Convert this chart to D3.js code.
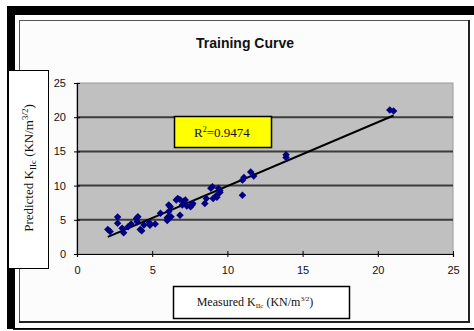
<!DOCTYPE html>
<html>
<head>
<meta charset="utf-8">
<script src="https://cdn.jsdelivr.net/npm/d3@7"></script>
<style>
  html, body { margin: 0; padding: 0; background: #ffffff; }
  svg { display: block; }
</style>
</head>
<body>
<svg id="chart" width="474" height="331"></svg>
<script>
// Measured vs predicted fracture toughness (training set)
const measured = [2.05, 2.2, 2.7, 2.7, 3.0, 3.1, 3.4, 3.6, 3.95, 4.05, 4.0, 4.2, 4.3, 4.45, 4.8, 4.85,
  5.2, 5.55, 6.0, 6.1, 6.0, 6.1, 6.2, 6.25, 6.1, 6.6, 6.7, 6.85, 6.85, 7.1, 7.2, 7.0, 7.3, 7.55,
  7.65, 7.7, 8.5, 8.6, 8.9, 9.0, 9.05, 9.25, 9.3, 9.4, 9.5, 9.5, 11.0, 11.1, 11.0, 11.55, 11.75,
  13.9, 13.9, 20.8, 21.05];
const predicted = [3.6, 3.3, 5.4, 4.5, 3.75, 3.1, 4.0, 4.4, 5.2, 5.45, 4.7, 3.6, 3.4, 4.25, 4.6, 4.2,
  4.4, 5.95, 5.3, 5.5, 4.9, 7.15, 6.9, 5.45, 6.2, 7.9, 8.1, 7.95, 5.65, 7.7, 7.9, 7.15, 7.0, 6.9,
  7.15, 7.4, 7.4, 8.1, 9.6, 9.85, 8.1, 8.5, 8.3, 9.6, 9.0, 9.3, 10.8, 11.2, 8.6, 12.0, 11.4,
  14.5, 14.1, 21.05, 20.9];
const xTicks = [0, 5, 10, 15, 20, 25];
const yTicks = [0, 5, 10, 15, 20, 25];
const rSquaredLabel = "0.9474";
const titleText = "Training Curve";

const svg = d3.select("#chart");

// Outer frame: heavy black left/top edge, thin bottom rule
svg.append("rect").attr("x", 7).attr("y", 6).attr("width", 467).attr("height", 323).attr("fill", "#000");
svg.append("rect").attr("x", 15).attr("y", 15).attr("width", 459).attr("height", 313).attr("fill", "#fff");
svg.append("line").attr("x1", 13).attr("x2", 474).attr("y1", 329.5).attr("y2", 329.5)
  .attr("stroke", "#222").attr("stroke-width", 1);

// Chart panel
svg.append("rect").attr("x", 19.5).attr("y", 20.5).attr("width", 449).attr("height", 301)
  .attr("fill", "#fcfcfc").attr("stroke", "#555").attr("stroke-width", 1);
svg.append("path").attr("d", "M469,20 V322 H19").attr("fill", "none")
  .attr("stroke", "#222").attr("stroke-width", 2);

const plot = { left: 77, right: 453, top: 83, bottom: 254 };
const x = d3.scaleLinear().domain([0, 25]).range([plot.left, plot.right]);
const y = d3.scaleLinear().domain([0, 25]).range([plot.bottom, plot.top]);

// Plot area
svg.append("rect").attr("x", plot.left).attr("y", plot.top)
  .attr("width", plot.right - plot.left).attr("height", plot.bottom - plot.top)
  .attr("fill", "#c0c0c0").attr("stroke", "#9a9a9a").attr("stroke-width", 1);

// Horizontal gridlines
svg.append("g").selectAll("line").data(yTicks.filter(d => d > 0 && d < 25)).join("line")
  .attr("x1", plot.left).attr("x2", plot.right)
  .attr("y1", d => y(d)).attr("y2", d => y(d))
  .attr("stroke", "#3c3c3c").attr("stroke-width", 2);

// Axes with crossing tick marks
const xAxis = svg.append("g").attr("transform", `translate(0,${plot.bottom})`)
  .call(d3.axisBottom(x).tickValues(xTicks).tickSize(3).tickPadding(9));
xAxis.selectAll(".tick line").attr("y1", -3).attr("y2", 3);
const yAxis = svg.append("g").attr("transform", `translate(${plot.left},0)`)
  .call(d3.axisLeft(y).tickValues(yTicks).tickSize(3).tickPadding(8));
yAxis.selectAll(".tick line").attr("x1", -3).attr("x2", 3);
[xAxis, yAxis].forEach(a => {
  a.select(".domain").attr("stroke", "#000").attr("stroke-width", 1.2);
  a.selectAll(".tick line").attr("stroke", "#000");
  a.selectAll("text").attr("font-family", "Liberation Sans, Arial, sans-serif")
    .attr("font-size", 11).attr("fill", "#111");
});

// Least-squares trendline over the measured range
const n = measured.length;
const mx = d3.mean(measured), my = d3.mean(predicted);
let sxy = 0, sxx = 0;
for (let i = 0; i < n; i++) {
  sxy += (measured[i] - mx) * (predicted[i] - my);
  sxx += (measured[i] - mx) ** 2;
}
const slope = sxy / sxx, intercept = my - slope * mx;
const [xmin, xmax] = d3.extent(measured);
svg.append("line")
  .attr("x1", x(xmin)).attr("y1", y(intercept + slope * xmin))
  .attr("x2", x(xmax)).attr("y2", y(intercept + slope * xmax))
  .attr("stroke", "#000").attr("stroke-width", 2);

// Data markers
svg.append("g").selectAll("path").data(measured.map((m, i) => [m, predicted[i]])).join("path")
  .attr("d", d3.symbol(d3.symbolSquare, 28)())
  .attr("transform", d => `translate(${x(d[0])},${y(d[1])}) rotate(45)`)
  .attr("fill", "#000080");

// Title
svg.append("text").attr("x", 245).attr("y", 48).attr("text-anchor", "middle")
  .attr("font-family", "Liberation Sans, Arial, sans-serif").attr("font-weight", "bold")
  .attr("font-size", 14).attr("fill", "#111").text(titleText);

// R² annotation box
svg.append("rect").attr("x", 174.5).attr("y", 116.5).attr("width", 97).attr("height", 31)
  .attr("fill", "#ffff00").attr("stroke", "#000").attr("stroke-width", 1.5);
const rt = svg.append("text").attr("x", 222).attr("y", 137).attr("text-anchor", "middle")
  .attr("font-family", "Liberation Serif, Times New Roman, serif").attr("font-size", 13).attr("fill", "#111");
rt.append("tspan").text("R");
rt.append("tspan").attr("dy", -5).attr("font-size", 8).text("2");
rt.append("tspan").attr("dy", 5).text("=" + rSquaredLabel);

// Y-axis title box
svg.append("rect").attr("x", 8.5).attr("y", 70.5).attr("width", 40).attr("height", 198)
  .attr("fill", "#fff").attr("stroke", "#000").attr("stroke-width", 1);
const yt = svg.append("text").attr("transform", "translate(33,168) rotate(-90)").attr("text-anchor", "middle")
  .attr("font-family", "Liberation Serif, Times New Roman, serif").attr("font-size", 13).attr("fill", "#111");
yt.append("tspan").text("Predicted K");
yt.append("tspan").attr("dy", 3).attr("font-size", 9).text("IIc");
yt.append("tspan").attr("dy", -3).text(" (KN/m");
yt.append("tspan").attr("dy", -5).attr("font-size", 9).text("3/2");
yt.append("tspan").attr("dy", 5).text(")");

// X-axis title box
svg.append("rect").attr("x", 173.5).attr("y", 286.5).attr("width", 176).attr("height", 32)
  .attr("fill", "#fff").attr("stroke", "#000").attr("stroke-width", 1.5);
const xt = svg.append("text").attr("x", 255).attr("y", 306).attr("text-anchor", "middle")
  .attr("font-family", "Liberation Serif, Times New Roman, serif").attr("font-size", 12).attr("fill", "#111");
xt.append("tspan").text("Measured K");
xt.append("tspan").attr("dy", 2).attr("font-size", 7).text("IIc");
xt.append("tspan").attr("dy", -2).text(" (KN/m");
xt.append("tspan").attr("dy", -5).attr("font-size", 7).text("3/2");
xt.append("tspan").attr("dy", 5).text(")");
</script>
</body>
</html>
